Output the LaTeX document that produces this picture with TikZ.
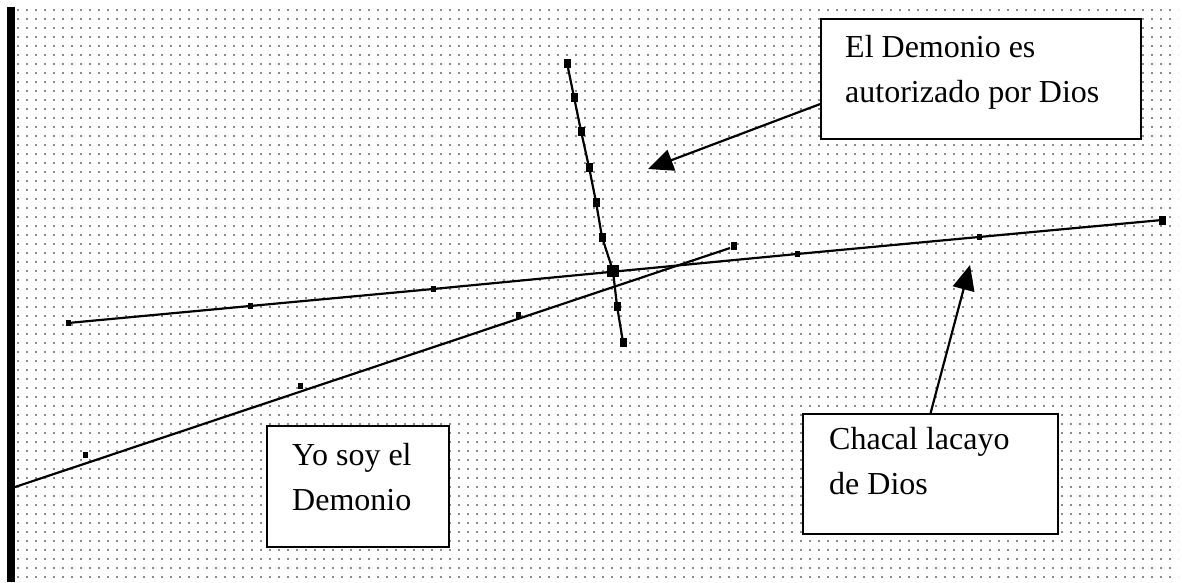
\documentclass[tikz,border=0pt]{standalone}
\usepackage{fontspec}
\setmainfont{Liberation Serif}
\usetikzlibrary{arrows.meta,calc}
\begin{document}
\begin{tikzpicture}[x=1pt,y=-1pt,
  griddots/.style={draw=black!45,line width=1.8pt,dash pattern=on 1.8pt off 7.2pt},
  ln/.style={draw=black,line width=2.2pt},
  mk/.style={rectangle,fill=black,inner sep=0pt,minimum width=5pt,minimum height=6pt},
  mkc/.style={rectangle,fill=black,inner sep=0pt,minimum width=7pt,minimum height=9pt},
  boxnode/.style={rectangle,draw=black,line width=2.2pt,fill=white,inner sep=0pt,anchor=north west},
  txt/.style={inner sep=0pt,anchor=north west,align=left,font=\fontsize{32}{45}\selectfont},
  arr/.style={draw=black,line width=2.2pt,-{Triangle[length=25pt,width=22pt]}}]
\useasboundingbox (0,0) rectangle (1182,582);
\fill[white] (0,0) rectangle (1182,582);
% dotted grid background
\foreach \r in {0,...,63}{
  \draw[griddots] (17,{10+9*\r}) -- (1178,{10+9*\r});
}
% left bar
\fill[black] (7,7) rectangle (15,582);
% line A
\node[mk] (a1) at (68,323) {};
\node[mk] (a2) at (250,306) {};
\node[mk] (a3) at (433,289) {};
\node[mk] (a4) at (615,271.5) {};
\node[mk] (a5) at (797,254) {};
\node[mk] (a6) at (979,237) {};
\node[mk,minimum width=7pt,minimum height=9pt] (a7) at (1162,220) {};
\draw[ln] (a1.center) -- (a2.center) -- (a3.center) -- (a4.center) -- (a5.center) -- (a6.center) -- (a7.center);
% line B
\coordinate (bs) at (15,487);
\node[mk] (b1) at (85,455) {};
\node[mk] (b2) at (300,386) {};
\node[mk] (b3) at (518,315) {};
\node[mk,minimum width=6pt,minimum height=8pt] (b4) at (734,246) {};
\draw[ln] (bs) -- ($(b4.center)+(-4,2)$);
% line C
\node[mkc] (c1) at (567,63) {};
\node[mkc] (c2) at (574,97) {};
\node[mkc] (c3) at (581,131) {};
\node[mkc] (c4) at (589,167) {};
\node[mkc] (c5) at (596,202) {};
\node[mkc] (c6) at (602,237) {};
\node[rectangle,fill=black,inner sep=0pt,minimum size=12pt] (c7) at (613,271) {};
\node[mkc] (c8) at (617,306) {};
\node[mkc] (c9) at (623,342) {};
\draw[ln] (c1.center) -- (c2.center) -- (c3.center) -- (c4.center) -- (c5.center) -- (c6.center) -- (c7.center) -- (c8.center) -- (c9.center);
% boxes
\node[boxnode,minimum width=320pt,minimum height=120pt] (box1) at (820,18) {};
\node[txt] (t1) at ($(box1.north west)+(25,17)$) {El Demonio es\\autorizado por Dios};
\node[boxnode,minimum width=182pt,minimum height=121pt] (box2) at (266,425) {};
\node[txt] (t2) at ($(box2.north west)+(26,18)$) {Yo soy el\\Demonio};
\node[boxnode,minimum width=255pt,minimum height=120pt] (box3) at (802,413) {};
\node[txt] (t3) at ($(box3.north west)+(27,14)$) {Chacal lacayo\\de Dios};
% arrows
\coordinate (tip1) at (648,169);
\coordinate (tip2) at (970,265);
\draw[arr] ([yshift=-25pt]box1.west) -- (tip1);
\draw[arr] (box3.north) -- (tip2);
\end{tikzpicture}
\end{document}
